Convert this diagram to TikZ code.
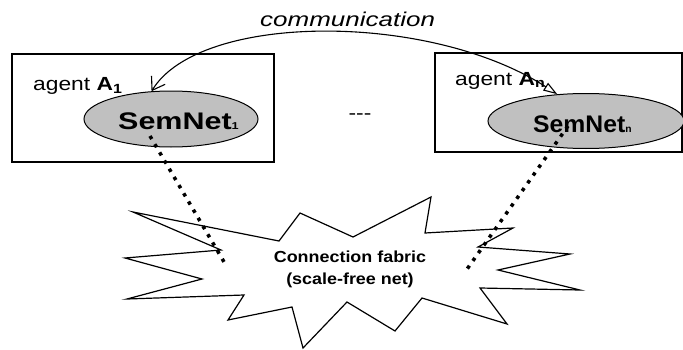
\documentclass[tikz,border=0pt]{standalone}
\usepackage{fontspec}
\setmainfont{Liberation Sans}
\usepackage{graphicx}
\usetikzlibrary{shapes.geometric,arrows.meta}

\definecolor{semgray}{RGB}{192,192,192}
\newcommand{\wtxt}[2]{\scalebox{#1}[1]{#2}}
\newcommand{\tinysub}[1]{{\fontsize{10}{10}\selectfont #1}}

\begin{document}
\begin{tikzpicture}[x=1pt, y=1pt, agent node/.style={draw, rectangle, line width=1.2pt, inner sep=0pt}, semnet node/.style={draw, ellipse, fill=semgray, line width=1pt, inner sep=0pt}, label node/.style={inner sep=0pt, anchor=base west}, link/.style={line width=3.5pt, dash pattern=on 3.5pt off 6pt}]
\useasboundingbox (0,0) rectangle (683,349);

% fabric
\draw[line width=1.2pt, fill=white] (133,137) -- (221,99) -- (125,91) -- (202,70) -- (127,50) -- (244,54) -- (228,29) -- (292,42) -- (303,1) -- (347,47) -- (395,18) -- (422,51) -- (507,25) -- (480,61) -- (580,59) -- (498,79) -- (570,95) -- (478,102) -- (513,121) -- (425,116) -- (431,152) -- (353,112) -- (300,136) -- (279,108) -- cycle;
\node[align=center, inner sep=0pt, font=\bfseries\fontsize{16}{22}\selectfont] (fab) at (350,80) {\wtxt{1.12}{Connection fabric}\\\wtxt{1.12}{(scale-free net)}};

% agent 1
\node[agent node, minimum width=262pt, minimum height=108pt] (a1) at (143,241) {};
\node[semnet node, minimum width=174pt, minimum height=56pt] (s1) at (171,230) {};
\node[label node, font=\fontsize{19}{22}\selectfont] (l1) at (33,259) {\wtxt{1.2}{agent \textbf{A\textsubscript{1}}}};
\node[label node, font=\bfseries\fontsize{24}{28}\selectfont] (t1) at (118,220) {\wtxt{1.27}{SemNet\tinysub{1}}};

% agent n
\node[agent node, minimum width=247pt, minimum height=99pt] (an) at (558.5,246.5) {};
\node[semnet node, minimum width=196pt, minimum height=55pt] (sn) at (586,228) {};
\node[label node, font=\fontsize{19}{22}\selectfont] (ln) at (455,264) {\wtxt{1.2}{agent \textbf{A\textsubscript{n}}}};
\node[label node, font=\bfseries\fontsize{24}{28}\selectfont] (tn) at (533,217) {\wtxt{1.03}{SemNet\tinysub{n}}};

% dots between agents
\node[font=\fontsize{19}{22}\selectfont] (gap) at (360,232) {\wtxt{1.2}{-{}-{}-}};

% communication
\node[label node, font=\itshape\fontsize{20}{24}\selectfont] (com) at (260,322) {\wtxt{1.3}{communication}};
\draw[line width=1.1pt, {Straight Barb[length=12pt,width=16pt]}-{Triangle[open,length=14pt,width=9pt]}] (s1.125) .. controls (200,337) and (430,337) .. (sn.137);

% links to fabric
\coordinate (d1) at (150,213);
\coordinate (f1) at (227,82);
\coordinate (dn) at (568,223);
\coordinate (fn) at (465,77);
\draw[link] (d1) -- (f1);
\draw[link] (dn) -- (fn);

\end{tikzpicture}
\end{document}
